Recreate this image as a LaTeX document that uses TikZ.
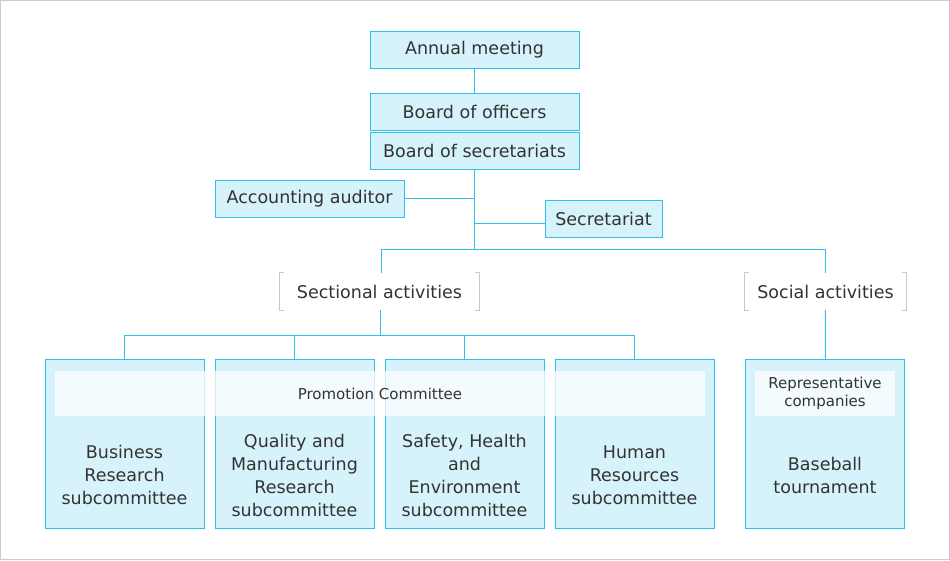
\documentclass[tikz,border=0pt]{standalone}
\usepackage{fontspec}
\setmainfont{DejaVu Sans}
\definecolor{boxline}{HTML}{2EC0EE}
\definecolor{boxfill}{HTML}{D6F3FC}
\definecolor{inktext}{HTML}{333333}
\definecolor{framegray}{HTML}{CCCCCC}
\definecolor{bracketgray}{HTML}{C8C8C8}
\begin{document}
\begin{tikzpicture}[
        x=1pt, y=-1pt,
        every node/.style={text=inktext, font=\fontsize{17.5}{23}\selectfont, inner sep=0pt},
        box/.style={draw=boxline, fill=boxfill, line width=1pt, minimum width=209pt, minimum height=37pt, text centered},
        unit/.style={draw=boxline, fill=boxfill, line width=1pt, minimum width=159pt, minimum height=169pt},
        band/.style={fill=white, fill opacity=0.75, text opacity=1, minimum height=45pt, align=center, font=\fontsize{15}{18}\selectfont},
        group/.style={minimum height=37pt, text centered},
        bracket/.style={draw=bracketgray, line width=1pt},
        link/.style={draw=boxline, line width=1pt}
    ]
        \useasboundingbox (0,0) rectangle (950,560);
        \draw[framegray, line width=1pt] (0.5,0.5) rectangle (949.5,559.5);

        % Top of the organisation
        \node[box] (annual) at (474.5,49.5) {Annual meeting};
        \node[box] (officers) at (474.5,111.5) {Board of officers};
        \node[box] (secretariats) at (474.5,150.5) {Board of secretariats};

        % Side offices
        \node[box, minimum width=189pt] (auditor) at (309.5,198.5) {Accounting auditor};
        \node[box, minimum width=117pt] (secretariat) at (603.5,218.5) {Secretariat};

        % Activity groups
        \node[group, minimum width=199pt] (sectional) at (379.5,291.5) {Sectional activities};
        \node[group, minimum width=161pt] (social) at (825.5,291.5) {Social activities};

        % Subcommittees
        \node[unit] (business) at (124.5,443.5) {};
        \node[unit] (quality) at (294.5,443.5) {};
        \node[unit] (safety) at (464.5,443.5) {};
        \node[unit] (human) at (634.5,443.5) {};
        \node[unit] (baseball) at (825,443.5) {};

        % Bands across the boxes
        \node[band, minimum width=650pt] (promotion) at (380,393.5) {Promotion Committee};
        \node[band, minimum width=140pt] (representative) at (825,393.5) {Representative\\companies};

        % Box texts
        \node[align=center] (businesstext) at (124.5,475) {Business\\Research\\subcommittee};
        \node[align=center] (qualitytext) at (294.5,475.5) {Quality and\\Manufacturing\\Research\\subcommittee};
        \node[align=center] (safetytext) at (464.5,475.5) {Safety, Health\\and\\Environment\\subcommittee};
        \node[align=center] (humantext) at (634.5,475) {Human\\Resources\\subcommittee};
        \node[align=center] (baseballtext) at (825,475.5) {Baseball\\tournament};

        % Brackets round the group labels
        \foreach \g in {sectional,social} {
            \draw[bracket] ([xshift=4pt]\g.north west) -- (\g.north west) -- (\g.south west) -- ([xshift=4pt]\g.south west);
            \draw[bracket] ([xshift=-4pt]\g.north east) -- (\g.north east) -- (\g.south east) -- ([xshift=-4pt]\g.south east);
        }

        % Connections
        \coordinate (hub) at (474.5,249);
        \coordinate (sectop) at (381,249);
        \coordinate (secjoin) at (474.5,223);
        \coordinate (sechub) at (380,335);
        \draw[link] (annual) -- (officers);
        \draw[link] (secretariats) -- (hub);
        \draw[link] (auditor) -- (auditor -| hub);
        \draw[link] (secjoin) -- (secjoin -| secretariat.west);
        \draw[link] (sectop |- sectional.north) -- (sectop) -| (social.north);
        \draw[link] (sechub |- sectional.south) -- (sechub);
        \foreach \n in {business,quality,safety,human}
            \draw[link] (\n.north) |- (sechub);
        \draw[link] (social) -- (baseball);
    \end{tikzpicture}
\end{document}
